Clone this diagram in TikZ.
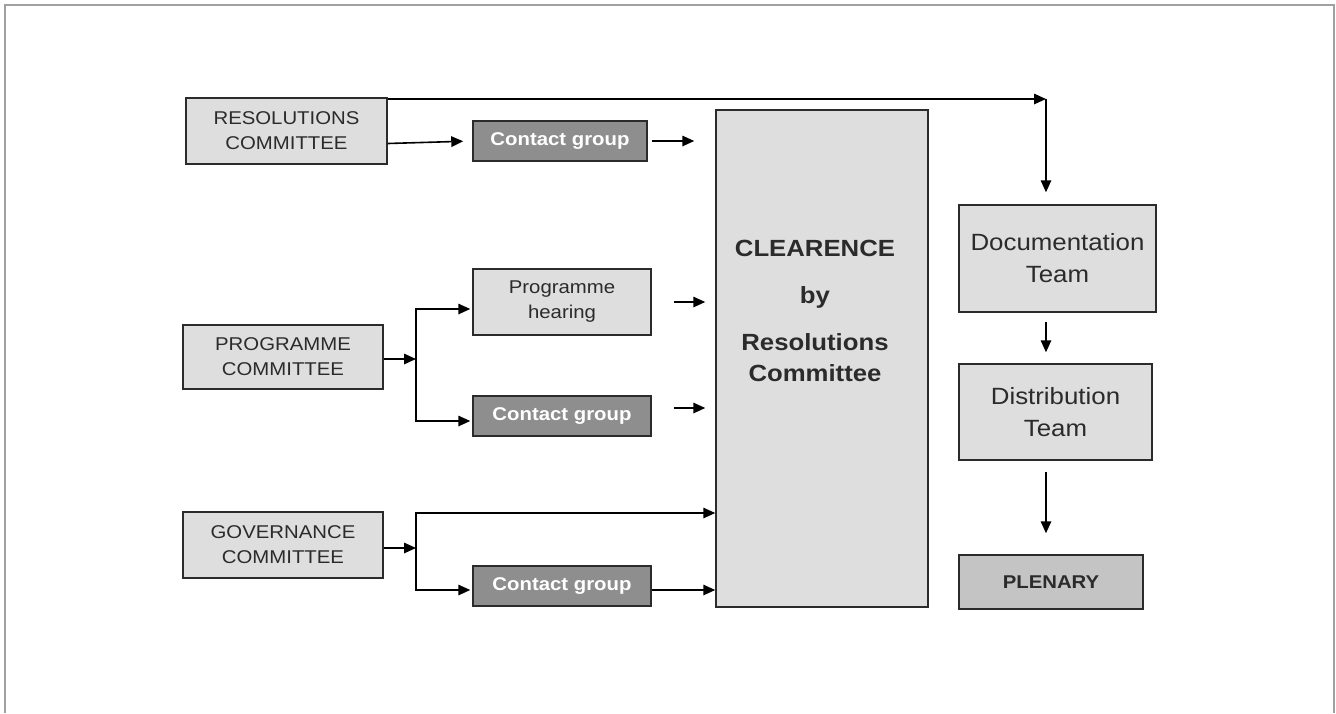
\documentclass[tikz,border=0pt]{standalone}
\usepackage{fontspec}
\setmainfont{Liberation Sans}[FakeStretch=1.1]
\usetikzlibrary{arrows.meta,calc}
\definecolor{lightbox}{HTML}{DEDEDE}
\definecolor{darkbox}{HTML}{8E8E8E}
\definecolor{plenbox}{HTML}{C4C4C4}
\definecolor{framecol}{HTML}{A0A0A0}
\definecolor{ink}{HTML}{2B2B2B}
\begin{document}
\begin{tikzpicture}[x=1pt,y=-1pt,
  box/.style={draw=ink, line width=1.5pt, fill=lightbox, inner sep=0pt, align=center, text=ink},
  comm/.style={box, font=\fontsize{18.5}{25}\selectfont, minimum width=200pt},
  cgroup/.style={box, fill=darkbox, text=white, font=\bfseries\fontsize{18.5}{25}\selectfont, minimum width=178pt, minimum height=40pt},
  team/.style={box, font=\fontsize{23.5}{32}\selectfont},
  cltext/.style={inner sep=0pt, text=ink, font=\bfseries\fontsize{23.4}{28}\selectfont},
  conn/.style={line width=1.6pt, draw=black},
  arr/.style={conn, -{Triangle[length=12pt,width=10.5pt]}}]
\useasboundingbox (0,0) rectangle (1336,713);
\draw[framecol, line width=2pt] (4.5,713) -- (4.5,4.5) -- (1333.5,4.5) -- (1333.5,713);

% left column
\node[comm, minimum width=201pt, minimum height=66pt] (rc) at (286.5,131) {RESOLUTIONS\\COMMITTEE};
\node[comm, minimum height=64pt] (pc) at (283,357) {PROGRAMME\\COMMITTEE};
\node[comm, minimum height=66pt] (gc) at (283,545) {GOVERNANCE\\COMMITTEE};

% middle column
\node[cgroup, minimum width=174pt] (cg1) at (560,141) {Contact group};
\node[box, font=\fontsize{18.5}{25}\selectfont, minimum width=178pt, minimum height=66pt] (ph) at (562,302) {Programme\\hearing};
\node[cgroup] (cg2) at (562,416) {Contact group};
\node[cgroup] (cg3) at (562,586) {Contact group};

% clearance
\node[box, minimum width=212pt, minimum height=497pt] (clr) at (822,358.5) {};
\node[cltext, anchor=base] (cl1) at (815,256) {CLEARENCE};
\node[cltext, anchor=base] (cl2) at (815,303) {by};
\node[cltext, anchor=base] (cl3) at (815,350) {Resolutions};
\node[cltext, anchor=base] (cl4) at (815,381) {Committee};

% right column
\node[team, minimum width=197pt, minimum height=107pt] (doc) at (1057.5,258.5) {Documentation\\Team};
\node[team, minimum width=193pt, minimum height=96pt] (dist) at (1055.5,412) {Distribution\\Team};
\node[box, fill=plenbox, font=\bfseries\fontsize{18.5}{22}\selectfont, minimum width=184pt, minimum height=54pt] (plen) at (1051,582) {PLENARY};

% top connector
\coordinate (tc) at (1046,99);
\draw[arr] (rc.east |- tc) -- (tc);
\draw[arr, shorten >=12pt] (tc) -- (tc |- doc.north);

% resolutions row
\draw[arr, shorten >=9pt] ([yshift=-12.5pt]rc.east) -- (cg1.west);
\draw[arr] ($(cg1.east)+(4,0)$) -- ($(clr.west |- cg1.east)+(-21,0)$);

% programme row
\coordinate (pb) at (416,359);
\coordinate (phin) at ($(ph.west)+(0,7)$);
\coordinate (cg2in) at ($(cg2.west)+(0,5)$);
\draw[arr] (pc.east |- pb) -- (pb);
\draw[arr, shorten >=2pt] (pb |- cg2in) -- (pb |- phin) -- (phin);
\draw[arr, shorten >=2pt] (pb |- phin) |- (cg2in);
\draw[arr] ($(ph.east)+(22,0)$) -- ($(clr.west |- ph.east)+(-10,0)$);
\draw[arr] ($(cg2.east)+(22,-8)$) -- ($(clr.west |- cg2.east)+(-10,-8)$);

% governance row
\coordinate (gb) at (416,548);
\coordinate (gtop) at (416,513);
\coordinate (cg3in) at ($(cg3.west)+(0,4)$);
\draw[arr] (gc.east |- gb) -- (gb);
\draw[arr] (gb |- cg3in) -- (gtop) -- (gtop -| clr.west);
\draw[arr, shorten >=2pt] (gtop) |- (cg3in);
\draw[arr] (cg3in -| cg3.east) -- (cg3in -| clr.west);

% right column arrows
\draw[arr] ($(doc.south -| tc)+(0,9)$) -- ($(dist.north -| tc)+(0,-11)$);
\draw[arr] ($(dist.south -| tc)+(0,11)$) -- ($(plen.north -| tc)+(0,-21)$);
\end{tikzpicture}
\end{document}
